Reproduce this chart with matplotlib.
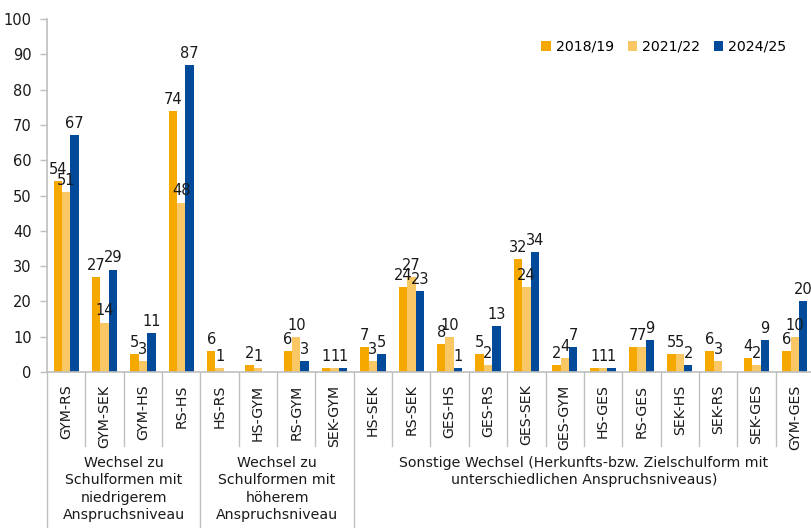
import numpy as np
import matplotlib
matplotlib.use("Agg")
import matplotlib.pyplot as plt
from matplotlib.transforms import blended_transform_factory
from matplotlib.lines import Line2D
from matplotlib.patches import Patch

plt.rcParams['font.family'] = ['DejaVu Sans']

categories = ["GYM-RS", "GYM-SEK", "GYM-HS", "RS-HS",
              "HS-RS", "HS-GYM", "RS-GYM", "SEK-GYM",
              "HS-SEK", "RS-SEK", "GES-HS", "GES-RS", "GES-SEK", "GES-GYM",
              "HS-GES", "RS-GES", "SEK-HS", "SEK-RS", "SEK-GES", "GYM-GES"]
series_names = ["2018/19", "2021/22", "2024/25"]
v2018 = [54, 27, 5, 74, 6, 2, 6, 1, 7, 24, 8, 5, 32, 2, 1, 7, 5, 6, 4, 6]
v2021 = [51, 14, 3, 48, 1, 1, 10, 1, 3, 27, 10, 2, 24, 4, 1, 7, 5, 3, 2, 10]
v2024 = [67, 29, 11, 87, np.nan, np.nan, 3, 1, 5, 23, 1, 13, 34, 7, 1, 9, 2, np.nan, 9, 20]
groups = ["Wechsel zu\nSchulformen mit\nniedrigerem\nAnspruchsniveau",
          "Wechsel zu\nSchulformen mit\nhöherem\nAnspruchsniveau",
          "Sonstige Wechsel (Herkunfts-bzw. Zielschulform mit\nunterschiedlichen Anspruchsniveaus)"]
group_sizes = [4, 4, 12]
colors = ["#F5A800", "#F9C865", "#004A99"]

FS = 10.2
W, H = 812, 528
fig = plt.figure(figsize=(W / 100, H / 100), dpi=100)
x0, x1 = 47, 814
y0, y1 = 372, 19
ax = fig.add_axes([x0 / W, 1 - y0 / H, (x1 - x0) / W, (y0 - y1) / H])

n = len(categories)
x = np.arange(n)
bw = 0.22
for i, vals in enumerate([v2018, v2021, v2024]):
    vals = np.array(vals, dtype=float)
    pos = x + (i - 1) * bw
    ax.bar(pos, vals, width=bw, color=colors[i], label=series_names[i], zorder=2)
    for p, v in zip(pos, vals):
        if not np.isnan(v):
            ax.annotate(f"{int(v)}", (p, v), xytext=(0, 3), textcoords="offset points",
                        ha="center", va="bottom", fontsize=FS + 0.3, color="#1a1a1a")

ax.set_xlim(-0.5, n - 0.5)
ax.set_ylim(0, 100)
ax.set_yticks(np.arange(0, 101, 10))
ax.tick_params(axis="y", labelsize=FS + 0.3, colors="#BFBFBF", labelcolor="#1a1a1a",
               length=5, width=1, pad=6)
ax.set_xticks(x)
ax.set_xticklabels(categories, rotation=90, fontsize=FS, color="#1a1a1a")
ax.tick_params(axis="x", length=0, pad=9)
for s in ["top", "right"]:
    ax.spines[s].set_visible(False)
for s in ["left", "bottom"]:
    ax.spines[s].set_color("#BFBFBF")
    ax.spines[s].set_linewidth(1.2)

# separators
tr = blended_transform_factory(ax.transData, fig.transFigure)
group_bounds = np.cumsum([0] + group_sizes)
for k in range(n + 1):
    bottom = 0.0 if k in group_bounds else 1 - 446 / H
    ln = Line2D([k - 0.5, k - 0.5], [1 - y0 / H, bottom], transform=tr,
                color="#BFBFBF", lw=1.0, clip_on=False)
    fig.add_artist(ln)

# group labels
for g, (a, b) in enumerate(zip(group_bounds[:-1], group_bounds[1:])):
    cx = (a + b - 1) / 2
    t = fig.text(cx, 1 - 456 / H, groups[g], transform=tr, fontsize=FS, color="#1a1a1a",
                 ha="center", va="top", linespacing=1.3)

handles = [Patch(facecolor=c, edgecolor="none") for c in colors]
fig.legend(handles, series_names, loc="center", bbox_to_anchor=(664 / W, 1 - 47 / H),
           ncol=3, frameon=False, fontsize=FS, handlelength=0.65, handleheight=0.65,
           handletextpad=0.35, columnspacing=1.0, borderaxespad=0)

fig.savefig("out.png", dpi=100)
